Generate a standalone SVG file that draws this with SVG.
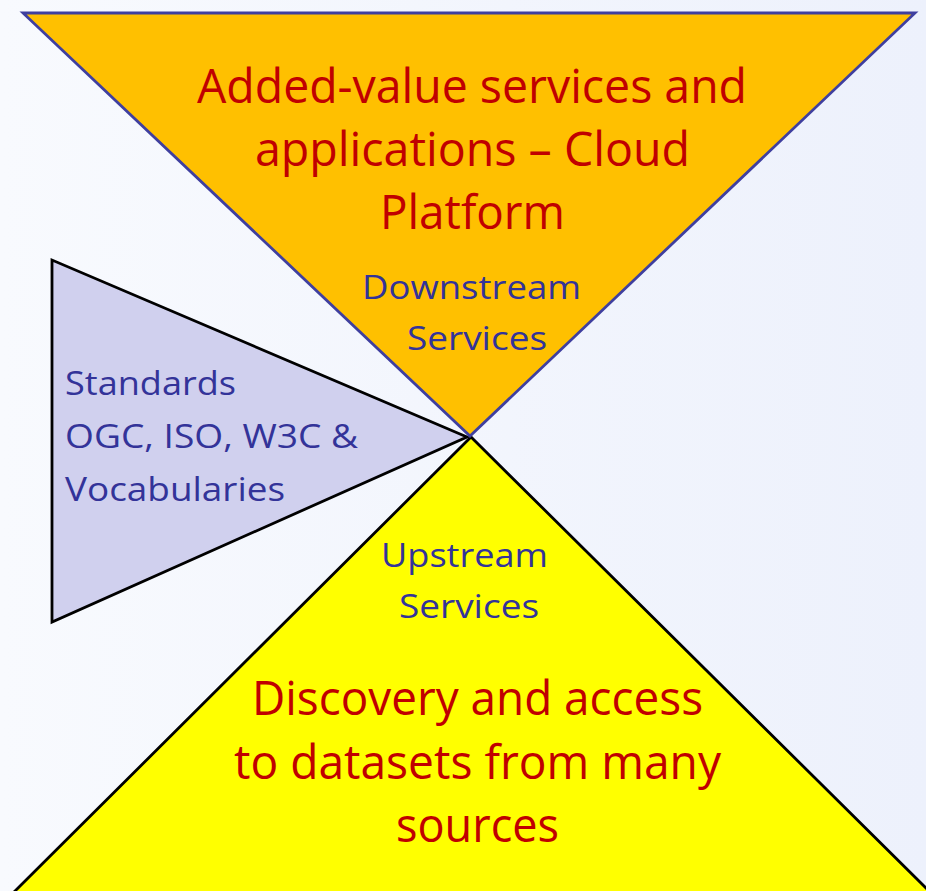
<svg xmlns="http://www.w3.org/2000/svg" width="926" height="891" viewBox="0 0 926 891">
  <defs>
    <linearGradient id="bg" x1="0" y1="0" x2="1" y2="0">
      <stop offset="0" stop-color="#F8FAFE"/>
      <stop offset="1" stop-color="#EDF1FC"/>
    </linearGradient>
  </defs>
  <style>
    text { font-family: "Open Sans", "Liberation Sans", Arial, sans-serif; }
    .big { font-size: 48px; fill: #C00000; }
    .small { font-size: 32px; fill: #333399; }
  </style>
  <rect x="0" y="0" width="926" height="891" fill="url(#bg)"/>
  <g id="standards">
    <polygon points="52,260 52,622 467,437" fill="#D0D0EE" stroke="#000000" stroke-width="2.8" stroke-linejoin="miter"/>
    <text class="small" x="65" y="395" textLength="171" lengthAdjust="spacingAndGlyphs">Standards</text>
    <text class="small" x="65" y="448" textLength="293" lengthAdjust="spacingAndGlyphs">OGC, ISO, W3C &amp;</text>
    <text class="small" x="65" y="501" textLength="220" lengthAdjust="spacingAndGlyphs">Vocabularies</text>
  </g>
  <g id="upstream">
    <polygon points="471,437 12,894 932,894" fill="#FFFF00" stroke="#000000" stroke-width="2.8"/>
    <text class="small" x="381" y="567" textLength="167" lengthAdjust="spacingAndGlyphs">Upstream</text>
    <text class="small" x="399" y="618" textLength="140" lengthAdjust="spacingAndGlyphs">Services</text>
    <text class="big" x="252" y="715" textLength="451" lengthAdjust="spacingAndGlyphs">Discovery and access</text>
    <text class="big" x="234" y="779" textLength="487" lengthAdjust="spacingAndGlyphs">to datasets from many</text>
    <text class="big" x="396" y="842" textLength="163" lengthAdjust="spacingAndGlyphs">sources</text>
  </g>
  <g id="downstream">
    <polygon points="23,13 915,13 470,436" fill="#FFC000" stroke="#3F3F9F" stroke-width="2.8"/>
    <text class="big" x="197" y="103" textLength="550" lengthAdjust="spacingAndGlyphs">Added-value services and</text>
    <text class="big" x="255" y="166" textLength="435" lengthAdjust="spacingAndGlyphs">applications – Cloud</text>
    <text class="big" x="380" y="229" textLength="185" lengthAdjust="spacingAndGlyphs">Platform</text>
    <text class="small" x="362" y="299" textLength="219" lengthAdjust="spacingAndGlyphs">Downstream</text>
    <text class="small" x="407" y="350" textLength="140" lengthAdjust="spacingAndGlyphs">Services</text>
  </g>
  <g id="connectors"/>
</svg>
